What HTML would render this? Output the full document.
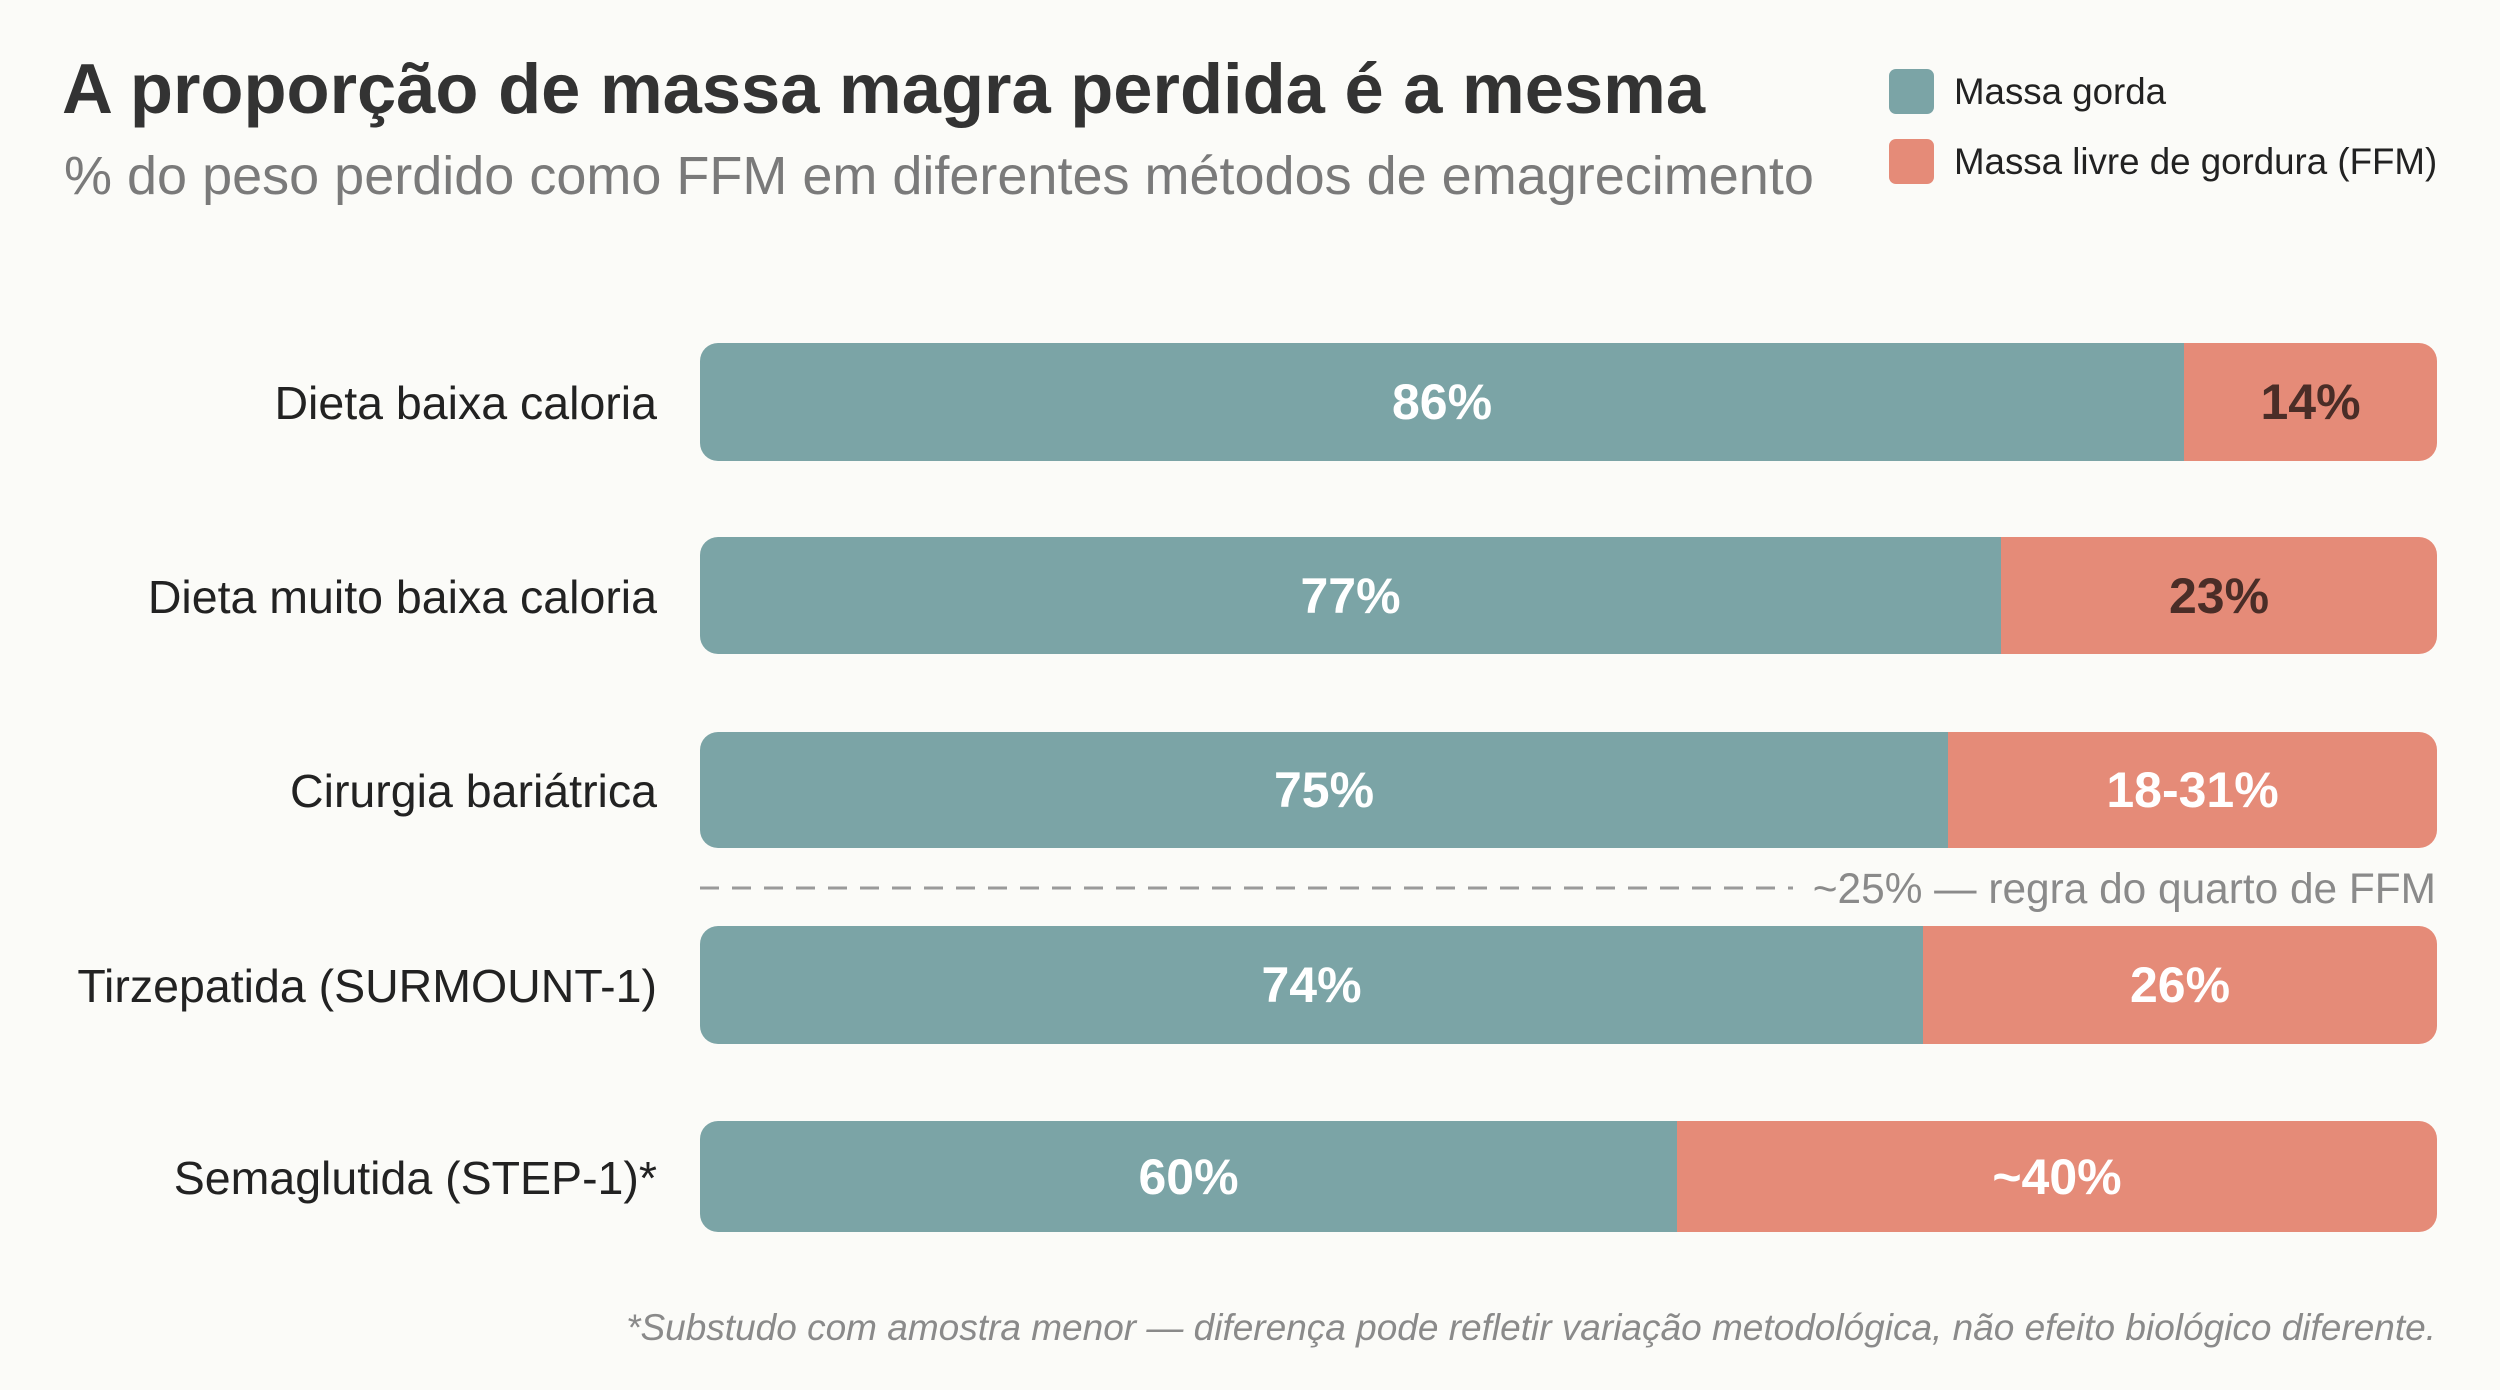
<!DOCTYPE html>
<html><head><meta charset="utf-8"><style>
body{margin:0;width:2500px;height:1390px;background:#fbfbf8;font-family:"Liberation Sans",sans-serif;position:relative;overflow:hidden}
.a{position:absolute;white-space:nowrap}
.lab{position:absolute;right:1843px;font-size:46.5px;color:#222;line-height:1}
.bar{position:absolute;left:700px;width:1737px;border-radius:18px;overflow:hidden;display:flex}
.g{background:#7ba4a6;height:100%;display:flex;align-items:center;justify-content:center;color:#fff;font-weight:bold;font-size:50px}
.f{background:#e58b78;height:100%;flex:1;display:flex;align-items:center;justify-content:center;color:#fff;font-weight:bold;font-size:50px}
</style></head><body>
<div class="a" style="left:62px;top:48px;font-size:70.5px;font-weight:bold;color:#333">A proporção de massa magra perdida é a mesma</div>
<div class="a" style="left:64px;top:145px;font-size:54px;color:#7a7a7a">% do peso perdido como FFM em diferentes métodos de emagrecimento</div>
<div class="a" style="left:1889px;top:69px;width:45px;height:45px;border-radius:7px;background:#7ba4a6"></div>
<div class="a" style="left:1889px;top:139px;width:45px;height:45px;border-radius:7px;background:#e58b78"></div>
<div class="a" style="left:1954px;top:71px;font-size:36.7px;color:#222">Massa gorda</div>
<div class="a" style="left:1954px;top:141px;font-size:36.7px;color:#222">Massa livre de gordura (FFM)</div>

<div class="lab" style="top:380px">Dieta baixa caloria</div>
<div class="bar" style="top:343px;height:118px"><div class="g" style="width:1484px">86%</div><div class="f" style="color:#4a2d27">14%</div></div>

<div class="lab" style="top:574px">Dieta muito baixa caloria</div>
<div class="bar" style="top:537px;height:117px"><div class="g" style="width:1301px">77%</div><div class="f" style="color:#4a2d27">23%</div></div>

<div class="lab" style="top:768px">Cirurgia bariátrica</div>
<div class="bar" style="top:732px;height:116px"><div class="g" style="width:1248px">75%</div><div class="f">18-31%</div></div>

<svg class="a" style="left:700px;top:884px" width="1100" height="8"><line x1="0" y1="4" x2="1093" y2="4" stroke="#9a9a9a" stroke-width="3" stroke-dasharray="19 13"/></svg>
<div class="a" style="right:64px;top:865px;font-size:42.4px;color:#8a8a8a">~25% — regra do quarto de FFM</div>

<div class="lab" style="top:963px">Tirzepatida (SURMOUNT-1)</div>
<div class="bar" style="top:926px;height:118px"><div class="g" style="width:1223px">74%</div><div class="f">26%</div></div>

<div class="lab" style="top:1155px">Semaglutida (STEP-1)*</div>
<div class="bar" style="top:1121px;height:111px"><div class="g" style="width:977px">60%</div><div class="f">~40%</div></div>

<div class="a" style="right:64px;top:1307px;font-size:37px;font-style:italic;color:#8a8a8a">*Substudo com amostra menor — diferença pode refletir variação metodológica, não efeito biológico diferente.</div>
</body></html>
